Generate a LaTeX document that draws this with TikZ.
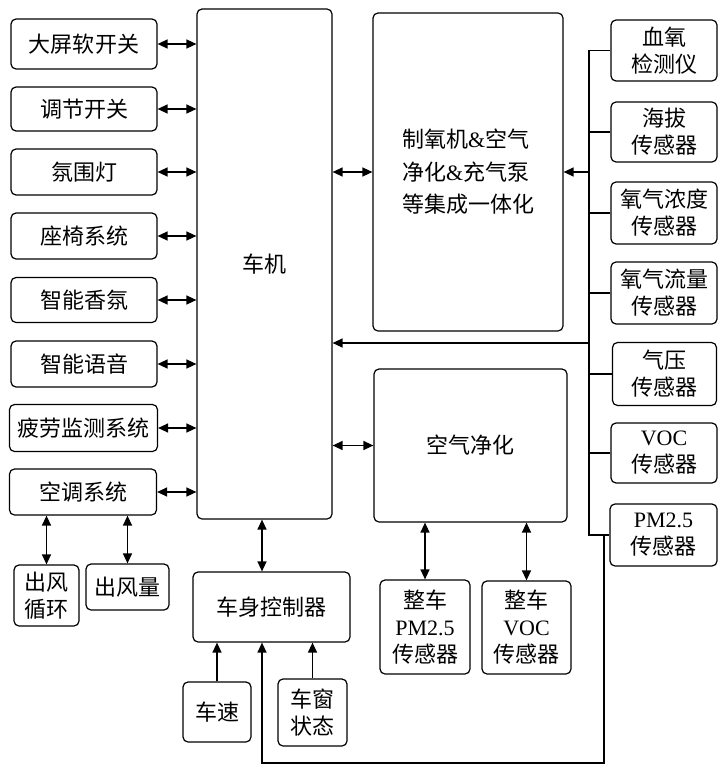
\documentclass[tikz,border=0pt]{standalone}
\usepackage{fontspec}
\setmainfont{Liberation Serif}
\newfontfamily\cjk{Noto Sans CJK SC}
\usetikzlibrary{arrows.meta}
\newcommand\lat[1]{{\rmfamily #1}}
\begin{document}
\begin{tikzpicture}[x=1bp,y=-1bp,
  bx/.style={draw, rounded corners=5bp, line width=1.2bp, inner sep=0pt, align=center,
    font=\cjk\fontsize{22bp}{27bp}\selectfont},
  ln/.style={line width=1.3bp},
  tip/.style={-{Triangle[length=10bp,width=9bp]}, line width=1.3bp},
  dtip/.style={{Triangle[length=10bp,width=9bp]}-{Triangle[length=10bp,width=9bp]}, line width=1.3bp}]
\useasboundingbox (0,0) rectangle (723,768);
% left column
\node[bx, minimum width=146bp, minimum height=50bp] (l1) at (84,44) {大屏软开关};
\node[bx, minimum width=146bp, minimum height=44bp] (l2) at (84,109) {调节开关};
\node[bx, minimum width=146bp, minimum height=46bp] (l3) at (84,172) {氛围灯};
\node[bx, minimum width=146bp, minimum height=46bp] (l4) at (84,236) {座椅系统};
\node[bx, minimum width=146bp, minimum height=45bp] (l5) at (84,300) {智能香氛};
\node[bx, minimum width=146bp, minimum height=46bp] (l6) at (84,364) {智能语音};
\node[bx, minimum width=148bp, minimum height=47bp] (l7) at (83.5,428) {疲劳监测系统};
\node[bx, minimum width=147bp, minimum height=46bp] (l8) at (83,492) {空调系统};
% head unit
\node[bx, minimum width=135bp, minimum height=510bp] (chj) at (264.5,264) {车机};
% oxygen unit
\node[bx, minimum width=190bp, minimum height=318bp, align=left,
  font=\cjk\fontsize{22bp}{32.5bp}\selectfont] (zy) at (468,172)
  {制氧机\lat{\&}空气\\净化\lat{\&}充气泵\\等集成一体化};
\node[bx, minimum width=193bp, minimum height=153bp] (kq) at (470.5,445.5) {空气净化};
% right column
\node[bx, minimum width=106bp, minimum height=61bp] (r1) at (664,50.5) {血氧\\检测仪};
\node[bx, minimum width=106bp, minimum height=60bp] (r2) at (664,132) {海拔\\传感器};
\node[bx, minimum width=106bp, minimum height=62bp] (r3) at (664,213) {氧气浓度\\传感器};
\node[bx, minimum width=106bp, minimum height=62bp] (r4) at (664,293) {氧气流量\\传感器};
\node[bx, minimum width=104bp, minimum height=63bp] (r5) at (664.5,374) {气压\\传感器};
\node[bx, minimum width=106bp, minimum height=60bp] (r6) at (664,453) {\lat{VOC}\\传感器};
\node[bx, minimum width=107bp, minimum height=62bp] (r7) at (663.5,535) {\lat{PM2.5}\\传感器};
% bottom
\node[bx, minimum width=90bp, minimum height=94bp] (p1) at (425,627) {整车\\\lat{PM2.5}\\传感器};
\node[bx, minimum width=89bp, minimum height=93bp] (p2) at (526.5,627.5) {整车\\\lat{VOC}\\传感器};
\node[bx, minimum width=65bp, minimum height=61bp] (k1) at (46.5,595.5) {出风\\循环};
\node[bx, minimum width=83bp, minimum height=46bp] (k2) at (127.5,587) {出风量};
\node[bx, minimum width=157bp, minimum height=70bp] (bk) at (271.5,607) {车身控制器};
\node[bx, minimum width=68bp, minimum height=60bp] (cs) at (217,712) {车速};
\node[bx, minimum width=69bp, minimum height=67bp] (cc) at (312.5,712.5) {车窗\\状态};
% coordinates
\coordinate (bus) at (589,0);
\coordinate (j2) at (589,343);
\coordinate (j3) at (604,535);
\coordinate (c2) at (262,763);
% left arrows
\foreach \n in {l1,l2,l3,l4,l5,l6,l7,l8}
  \draw[dtip] (\n.east) -- (\n.east -| chj.west);
\draw[dtip] (k1.north) -- (k1.north |- l8.south);
\draw[dtip] (k2.north) -- (k2.north |- l8.south);
% head unit connections
\draw[dtip] (chj.east |- zy.west) -- (zy.west);
\draw[dtip] (chj.east |- kq.west) -- (kq.west);
\draw[dtip] (chj.south -| c2) -- (bk.north -| c2);
\draw[dtip] (p1.north) -- (p1.north |- kq.south);
\draw[dtip] (p2.north) -- (p2.north |- kq.south);
\draw[tip] (cs.north) -- (cs.north |- bk.south);
\draw[tip] (cc.north) -- (cc.north |- bk.south);
% sensor bus
\draw[ln] (r1.west) -- (r1.west -| bus) -- (r7.west -| bus) -- (r7.west);
\foreach \n in {r2,r3,r4,r5,r6}
  \draw[ln] (\n.west) -- (\n.west -| bus);
\draw[tip] (zy.east -| bus) -- (zy.east);
\draw[tip] (j2) -- (j2 -| chj.east);
\draw[tip] (j3) |- (c2) -- (c2 |- bk.south);
\end{tikzpicture}
\end{document}
